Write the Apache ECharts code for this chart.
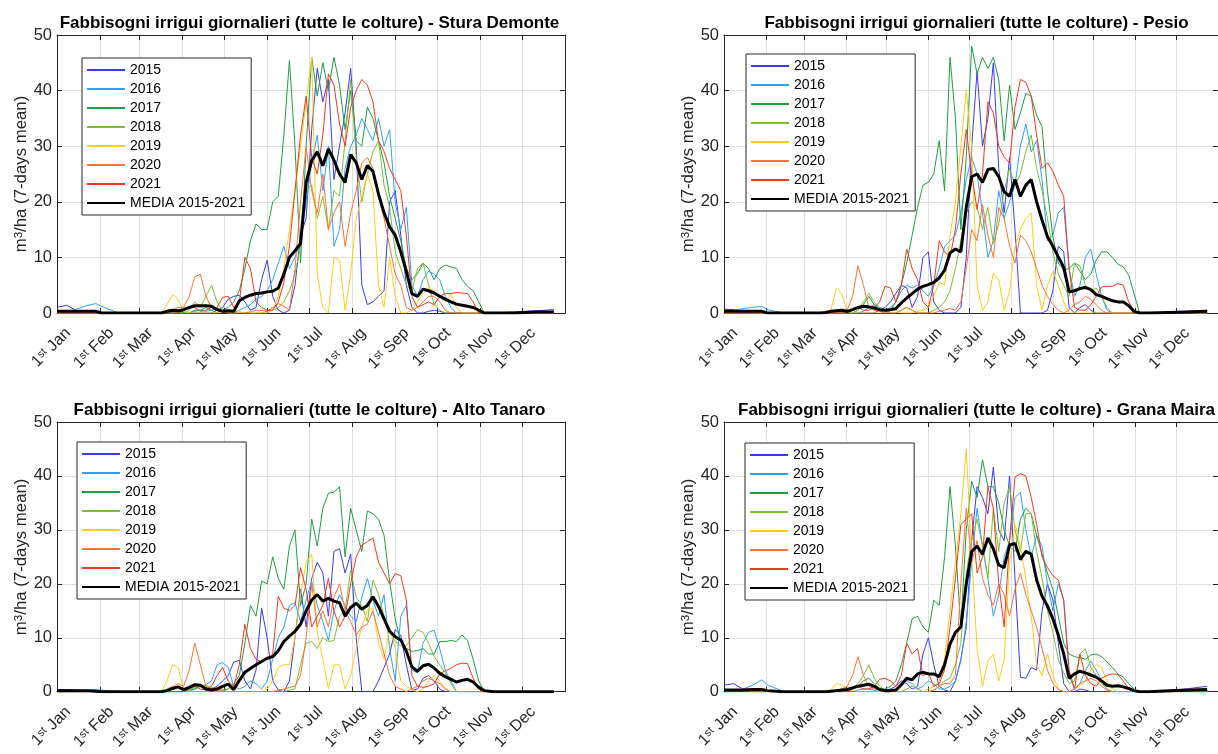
<!DOCTYPE html>
<html>
<head>
<meta charset="utf-8">
<script src="https://cdn.jsdelivr.net/npm/echarts@6/dist/echarts.min.js"></script>
<style>html,body{margin:0;padding:0;background:#fff;}#c{width:1218px;height:754px;}</style>
</head>
<body>
<div id="c"></div>
<script>
// ---------- DATA ----------
// day of year at which the 7-day-mean values are sampled
const DAYS = [1,8,15,22,29,33,45,60,72,
  76,80,84,88,92,96,100,104,108,112,
  116,120,124,128,132,136,140,144,148,152,
  156,160,164,168,172,176,180,184,188,192,
  196,200,204,208,212,216,220,224,228,232,
  236,240,244,248,252,256,260,264,268,272,
  276,280,284,288,292,296,300,304,308,
  315,330,345,358];
const MONTH_DAYS = [1,32,60,91,121,152,182,213,244,274,305,335];
const MONTH_LABELS = ['Jan','Feb','Mar','Apr','May','Jun','Jul','Aug','Sep','Oct','Nov','Dec'];
const Y_TICKS = [0,10,20,30,40,50];
const YEARS = ['2015','2016','2017','2018','2019','2020','2021'];
const MEAN_NAME = 'MEDIA 2015-2021';
const TITLES = [
  'Fabbisogni irrigui giornalieri (tutte le colture) - Stura Demonte',
  'Fabbisogni irrigui giornalieri (tutte le colture) - Pesio',
  'Fabbisogni irrigui giornalieri (tutte le colture) - Alto Tanaro',
  'Fabbisogni irrigui giornalieri (tutte le colture) - Grana Maira'
];

// ---- Stura Demonte ----
const MEAN1 = [0.3,0.3,0.3,0.3,0.3,0,0,0,0,
  0,0.3,0.5,0.4,0.6,1.0,1.3,1.3,1.3,1.2,
  0.6,0.3,0.4,0.3,2.2,2.8,3.2,3.5,3.6,3.8,
  3.9,4.5,7.0,10,11.2,12.5,23.5,27.4,29,26.5,
  29.5,27.5,25,23.5,28.5,27,24,26.5,25.5,21.4,
  18,15.5,14,11,7.5,3.5,3,4.3,4,3.6,
  3,2.5,2,1.6,1.4,1.2,1,0.5,0,
  0,0,0.2,0.2];
const S1_2015 = [1.0,1.4,0.4,0,0,0,0,0,0,
  0,0,0,0,0,0,0,0,0,0,
  0.5,1,2.5,3,3.2,2,0.5,1,6,9.5,
  3,0.5,0,0.5,5,14,17,33,44,38,
  42,24,30,36,44,30,5,1.5,2,3,
  4,20,22,14,5,1,0,0,0.3,0.5,
  0.3,0,0,0,0,0,0,0,0,
  0,0.2,0.4,0.6];
const S1_2016 = [0,0.2,0.7,1.3,1.7,1.2,0,0,0,
  0,0,0,0,0,0,0.3,0.5,0.3,0.5,
  1,0.3,0,0,0.5,1,1.5,2.5,3,4,
  6,9,12,8,10,13,20,27,32,22,
  30,12,15,26,30,32,35,33,31,35,
  30,33,20,15,19,5,3,6,7.5,7,
  6,3,1,0,0,0,0,0,0,
  0,0,0,0];
const S1_2017 = [0,0,0,0,0,0,0,0,0,
  0,0,0,0,0,0,0.5,0.5,1,0.5,
  0,0.5,1,2,4,8,13,16,15,15,
  20,21,32,45.4,30,9,30,46,39,45,
  40,46,41,33,40,31,30,37,35,31,
  27,21,17,13,8,6,7,9,8,6,
  8,8.6,8.3,8,6,4.8,4,2,0,
  0,0,0,0];
const S1_2018 = [0,0,0,0,0,0,0,0,0,
  0,0,0,0,0,0.5,2,1,3,5,
  2,0.3,0,0,0,0,0,0,0,0.3,
  0.5,1,2,4,7,12,22,23,17,21,
  15,22,21,31,42,28,20,25,29,31,
  23,19,11,8,5,4,8,9,5,1.5,
  0.5,0,0,0,0,0,0,0,0,
  0,0,0,0];
const S1_2019 = [0,0,0,0,0,0,0,0,0,
  0,1.5,3.3,2.5,0.3,0,0,0,0,0,
  0,0.3,0.5,0.5,0.3,0,0,0,0,0,
  0.5,3,8,15,22,30,38,46,7,1,
  0,10,9.5,0.5,7,17,21,25,22,5,
  1,10,3,0,0,0.5,2,3.5,4.5,4,
  3,2,3.5,1,0,0,0,0,0,
  0,0,0,0];
const S1_2020 = [0,0,0,0,0,0,0,0,0,
  0,0.2,0.5,1,1,3,6.5,7,3,1,
  0.5,0.2,0,0,0,0,0.2,0.5,0.5,0.3,
  1,1.7,1.2,0.5,8,20,30,22,18,25,
  15,18,20,12,18,22,27,28,26,21,
  17,12,7,5,1,0.5,1,2,3,3,
  2,0.5,0,0,0,0,0,0,0,
  0,0,0,0];
const S1_2021 = [0,0,0,0,0,0,0,0,0,
  0,0,0,0,0.5,1,1,0.3,0.5,1,
  1,2.8,3,1,2,10,8,2,1,0.5,
  0.5,2,5.5,12,22,32,39,28,25,32,
  43,41,34,30,37,40,42,41,38,31,
  29,26,24,22,14,3,1,1.5,2,1.5,
  3,3.5,3.5,3.7,3.6,3.5,2,0,0,
  0,0,0,0];

// ---- Pesio ----
const MEAN2 = [0.3,0.3,0.3,0.3,0.3,0,0,0,0,
  0.1,0.3,0.4,0.5,0.3,0.6,1.0,1.2,1.1,0.9,
  0.6,0.5,0.6,0.8,1.8,2.7,3.5,4.3,4.8,5.1,
  5.5,6.3,7.7,10.8,11.5,11,19,24.5,25,23.5,
  25.8,26,24.5,21.8,21,24,21,23,24,20,
  16.7,13.7,12,10.1,8.2,3.8,4,4.4,4.6,4.2,
  3.3,3,2.6,2.2,2,2,1.3,0.3,0,
  0,0.1,0.2,0.3];
const S2_2015 = [0.7,0.6,0.2,0,0,0,0,0,0,
  0,0,0,0,0,0,0,0,0,0,
  0.5,1,2,3.5,5,4.5,1,3,10,11,
  2,0.5,0,0,0,1,10,30,43.5,30,
  35,45,26,18,28,15,0,0,0,0,
  0,0.5,4,12,11,1,0,1,1.5,0.5,
  0,0,0,0,0,0,0,0,0,
  0,0.2,0.4,0.5];
const S2_2016 = [0.2,0.5,0.8,1.0,1.2,0.6,0,0,0,
  0,0,0,0,0,0,0,0.3,1,1.5,
  1,0.5,1,2,4,5,4.5,5,4,3,
  5,8,12,13,14,18,24,28,25,18,
  10,13,22,17,20,23,30,34,29,31,
  24,13,14,18,19,8,3,5,10,11.5,
  7,3,0.5,0,0,0,0,0,0,
  0,0,0,0];
const S2_2017 = [0,0,0,0,0,0,0,0,0,
  0,0,0,0,0,0,0.5,1.5,3,1.5,
  0.5,0,0.5,2,5,9,14,19,23,23.5,
  25,31,22,46,35,15,28,48,43,46,
  44,46,42,31,41,33,36,39.5,39,35.5,
  33.5,22,13.7,9,7.7,8,9,7.5,6,7,
  9.5,11,11,10,8.8,8.3,6.8,3.5,0,
  0,0,0,0];
const S2_2018 = [0,0,0,0,0,0,0,0,0,
  0,0,0,0,0,0,0.5,2,3.5,2,
  1,0.3,0,0,0.5,1,0.5,0,0,0,
  0.5,1,2,4,8,13,18,20,19,15,
  19,12.5,16,22,26,23,25,29,32,26,
  22,17,11,7,5,3,9,8.5,5,4,
  4.5,3,1,0,0,0,0,0,0,
  0,0,0,0];
const S2_2019 = [0,0,0,0,0,0,0,0,0,
  0,0.5,4.5,3.5,0.3,0,0,0,0,0,
  0,0,0.5,0.5,0,0,0,0.3,0.5,1,
  3,5.5,5,14,20,30,40,30,5,0.5,
  2,7.2,6,0.5,4,12,15,17,18,5,
  0.5,5,7.5,5,2,0,0,0,0,0,
  0,0,0,0,0,0,0,0,0,
  0,0,0,0];
const S2_2020 = [0,0,0,0,0,0,0,0,0,
  0,0,0,0,0.5,3,8.5,5,1,0.5,
  0.3,0,0,0,0.5,1,0.5,0,0,0,
  0,0.3,0.5,0.8,0.5,2,8,15,13,19.5,
  14,10,19,17,12,9,14,13,11,8,
  5,3,1.5,0.5,0,0.5,1.5,2,3,2.5,
  1.5,0.5,0,0,0,0,0,0,0,
  0,0,0,0];
const S2_2021 = [0,0,0,0,0,0,0,0,0,
  0,0,0,0,0,0.5,1,0.5,0.5,1,
  2,4.8,4.5,2,5,11.5,8,6,2,1,
  5,13,11,10,15,25,33,25,18.6,25,
  38,36,30,28,27,37,42,41.5,39,32,
  26,27,25.5,23,21,8,1,0.5,0.5,1.5,
  3,4.7,4.8,4.8,5.3,5,2,0.3,0,
  0,0,0,0];

// ---- Alto Tanaro ----
const MEAN3 = [0.2,0.2,0.2,0.2,0.1,0,0,0,0,
  0,0.2,0.6,0.9,0.4,0.8,1.3,1.2,0.5,0.3,
  0.5,1.0,1.4,0.4,2.1,3.6,4.3,5.0,5.6,6.2,
  6.5,7.6,9.3,10.3,11.2,12.5,15,17,18,16.8,
  17.3,16.8,16.5,14,15.6,16.4,15.3,16,17.6,15.8,
  13.5,11.2,10.2,9.6,7.5,4.6,3.8,4.8,5.1,4.4,
  3.4,2.8,2.3,1.8,2.1,2.3,1.8,0.8,0.2,
  0,0,0,0];
const S3_2015 = [0.4,0.4,0.3,0.2,0.1,0,0,0,0,
  0,0,0,0,0,0,0,0,0,0.5,
  1,2,3,5.5,5.8,2,0.5,4,15.5,10,
  2,0.3,0,2,10,19,12,21,24,22,
  14,26,26.5,22,25.5,10,0,0,0,2,
  4.5,7,11.5,10.5,5,0.3,0.5,2.5,3,2,
  0.5,0,0,0,0,0,0,0,0,
  0,0,0,0];
const S3_2016 = [0,0,0.2,0.3,0.4,0.3,0,0,0,
  0,0,0,0,0,0,0.5,1,1.3,2,
  5,5.4,4.5,1,0.5,1,2,1.5,0.5,2,
  6,10,12,16,16.5,13,17,20.5,16,13,
  9.5,15,18,16,14,13,17.5,21,17,14,
  18,8,2,14,16,4,3.5,9,11,11.4,
  8,4,2,0,0,0,0,0,0,
  0,0,0,0];
const S3_2017 = [0,0,0,0,0,0,0,0,0,
  0,0,0,0,0,0.3,0.5,1,0.8,0.5,
  0.3,0.3,0.5,1.5,3,9,16,14,20.5,20,
  25,21,19,27,30,16,20,32,27,34,
  36.8,37,38,25,34,30,26,33.5,33,32,
  29,20.5,13.5,9.3,8,7.5,7.6,8,7,7,
  9.3,9.3,9.5,9.3,10.5,9.5,6,2,0,
  0,0,0,0];
const S3_2018 = [0,0,0,0,0,0,0,0,0,
  0,0,0,0,0,0.3,0.8,1,1.2,0.8,
  0.5,0.3,0,0,0,0,0,0,0,0,
  0,0,0,0.3,0.5,5,9,9.3,8,10,
  9.3,9.5,14,15,22.5,17.5,16,13,20.7,18,
  14,11,9.3,8.5,8.5,10,11.5,11,9,6.5,
  5,3.5,1.5,0,0,0,0,0,0,
  0,0,0,0];
const S3_2019 = [0,0,0,0,0,0,0,0,0,
  0,2,5,4.5,0.5,0,0,0,0,0,
  0,0,0,0,0,0,0,0,0,0.5,
  2,4.5,5,5,10,18,24,25.5,11,6,
  0.5,5,5,0.5,3,8,12,15,15.5,9,
  6,12,8,2,1,0.5,0,0.5,2,3,
  2,0.5,0,0,0,0,0,0,0,
  0,0,0,0];
const S3_2020 = [0,0,0,0,0,0,0,0,0,
  0,0.5,1,1.5,1,4,9,5,1,0.5,
  0.3,0,0,0,0,0,0,0,0,0,
  0,0.3,0.5,0.8,1,3,10,20,12,15,
  12,17.5,20,15,13,10.5,12,12.5,15,11,
  7,3,1,0.5,0,0.5,1,2,2.5,2,
  1.5,0.5,0,0,0,0,0,0,0,
  0,0,0,0];
const S3_2021 = [0,0,0,0,0,0,0,0,0,
  0,0,0,0,0,0.5,1,0.5,0.3,1,
  3,4.5,2,1,5,12.5,8,6,5.5,6,
  7,17.7,15.5,15,16,23,19,12,14,16,
  21,15,12,14,20,25,27.2,27.8,28.5,24,
  22,20,21.9,21.5,17,3,1,0.8,1,1.5,
  3.3,3.9,4.3,5,5.3,5.2,2.5,0.5,0,
  0,0,0,0];

// ---- Grana Maira ----
const MEAN4 = [0.3,0.3,0.3,0.4,0.4,0.2,0,0,0,
  0,0.1,0.2,0.3,0.4,0.7,1.0,1.2,1.4,1.0,
  0.4,0.2,0.2,0.3,1.3,2.5,2.2,3.3,3.6,3.3,
  3.3,2.8,5,8.8,11,12,20,26,27,25.5,
  28.5,26.5,23.5,23,27.2,27.5,24.5,26,25.5,20.7,
  17.7,15.9,13.5,10.5,7,2.5,3.3,3.8,3.5,3.1,
  2.7,2,1.2,1,1.1,0.9,0.6,0.2,0,
  0,0.2,0.3,0.4];
const S4_2015 = [1.2,1.5,0.5,0,0,0,0,0,0,
  0,0,0,0,0,0,0,0,0,0,
  0,0.3,0.5,1,2,1.5,0.5,1,7,10,
  5,1,0.3,0,2,6,12,28,38,36,
  33,41.6,30,28,40,21,2.7,2.5,4.5,4,
  15,20,17,9,1.5,0,0,0.5,0.3,0,
  0,0,0,0,0,0,0,0,0,
  0,0.2,0.6,1.0];
const S4_2016 = [0,0,0.5,1.2,2.2,1.3,0,0,0,
  0,0,0,0,0,0,0.3,0.5,0.5,0.3,
  0,0,0.3,0.5,1.5,2,1.5,0.5,1,2,
  1.5,0.5,0.5,1,2,5.7,12.9,24,34,27,
  21,14,18,25,28,36,37,30,25,29,
  27,20,15,20,17,3,0.5,1.5,3.9,5.7,
  4,2,0.3,0,0,0,0,0,0,
  0,0,0,0];
const S4_2017 = [0,0,0,0,0,0,0,0,0,
  0,0,0,0,0,0.5,1,2,2.5,1.5,
  0.5,0.5,1,2,5,9,13.5,14,12,11,
  17,16,25,38,27,12,30,39,36,43,
  38,38,35,30,27,26,32,34,33,29,
  25.5,22,19,14,9,7,6.5,6.3,6,6.8,
  7,6.5,5.5,4.5,3.3,2.7,1.5,0.5,0,
  0,0,0,0];
const S4_2018 = [0,0,0,0,0,0,0,0,0,
  0,0,0,0,0.3,0.5,1.5,3,5,2.5,
  1,0.3,0,0,0,0.5,1,0.5,0,0,
  0.3,1,2,2.5,5,9,22,28,32,27,
  21,34,26,35,38,30,26,33,33,26,
  21,15,11,6,3.5,1.5,2,7,8,4.5,
  3,1.5,0.5,0,0,0,0,0,0,
  0,0,0,0];
const S4_2019 = [0,0,0,0,0,0,0,0,0,
  0,0.3,1.5,1.3,0.5,0.3,0,0,0,0,
  0,0,0,0,0,0,0,0,0,0.5,
  1,2,6,15,24,33,45,25,8,1,
  5.7,7,2,6,24,31,27,21,14,5,
  3,7,3,0.5,0,0,0.5,1,2,4,
  5,4.5,2,0.5,0,0,0,0,0,
  0,0,0,0];
const S4_2020 = [0,0,0,0,0,0,0,0,0,
  0,0,0.3,0.5,1,3,6.5,3,1,0.5,
  0.3,0,0,0,0,0,0,0,0,0,
  0.3,1,1.5,1.5,3,20,34,24,28,21,
  18,16,20,18,14,19,22,18,15,12,
  8,4,1.5,0.5,0,0,0.5,1.5,2,2.5,
  2,1,0.3,0,0,0,0,0,0,
  0,0,0,0];
const S4_2021 = [0,0,0,0,0,0,0,0,0,
  0,0,0,0,0,0.5,1,0.5,0.5,1,
  2.3,2.5,2,1,3,9,7,8,3,3.5,
  1,1.5,4,12,21,31,32,33,22,25,
  38,34,20,12,28,39.8,40.4,40,36,31,
  25,23,21.5,20.7,17,4,0.5,7,3,1.5,
  1,2.5,3,3.3,3.2,2,0.5,0,0,
  0,0,0,0];

const PANELS = [
  {title: TITLES[0], years: [S1_2015,S1_2016,S1_2017,S1_2018,S1_2019,S1_2020,S1_2021], mean: MEAN1},
  {title: TITLES[1], years: [S2_2015,S2_2016,S2_2017,S2_2018,S2_2019,S2_2020,S2_2021], mean: MEAN2},
  {title: TITLES[2], years: [S3_2015,S3_2016,S3_2017,S3_2018,S3_2019,S3_2020,S3_2021], mean: MEAN3},
  {title: TITLES[3], years: [S4_2015,S4_2016,S4_2017,S4_2018,S4_2019,S4_2020,S4_2021], mean: MEAN4}
];

// ---------- LAYOUT / STYLE ----------
const FONT = '"Liberation Sans", Arial, Helvetica, sans-serif';
const COLORS = ['#3a3af0','#2ea0ff','#1f9e45','#7cbf33','#ffcc1a','#ff7233','#ee3a1c'];
const AXIS_C = '#262626';
const GRID_C = '#e0e0e0';
const PW = 508, PH = 278;
const LABEL_SHIFT = 4; // MATLAB-style rotated label anchoring (days)
const GRID_POS = [{left:57, top:35}, {left:724, top:35}, {left:57, top:422}, {left:724, top:422}];
const LEGEND_POS = [{left:82, top:58}, {left:746, top:54}, {left:77, top:442}, {left:745, top:443}];
const LABEL_DAYS = MONTH_DAYS.map(d => d + LABEL_SHIFT);

const option = {
  animation: false,
  backgroundColor: '#fff',
  textStyle: {fontFamily: FONT},
  grid: [], xAxis: [], yAxis: [], legend: [], series: [], graphic: []
};

PANELS.forEach((p, k) => {
  const g = GRID_POS[k];
  option.grid.push({left: g.left, top: g.top, width: PW, height: PH});

  option.graphic.push({
    type: 'text', x: g.left + 252.5, y: g.top - 20, z: 20,
    style: {text: p.title, font: 'bold 17px ' + FONT, fill: '#000',
      align: 'center', verticalAlign: 'top', textAlign: 'center', textVerticalAlign: 'top'}
  });

  // bottom x axis
  option.xAxis.push({
    gridIndex: k, type: 'value', min: 1, max: 366, position: 'bottom',
    axisLine: {show: true, onZero: false, lineStyle: {color: AXIS_C, width: 1}},
    axisTick: {show: true, inside: true, length: 5, customValues: MONTH_DAYS, lineStyle: {color: AXIS_C}},
    axisLabel: {
      show: true, customValues: LABEL_DAYS, rotate: 45, align: 'right', verticalAlign: 'top',
      margin: 12, fontSize: 16, color: AXIS_C, fontFamily: FONT,
      formatter: v => '1{s|st} ' + MONTH_LABELS[LABEL_DAYS.indexOf(v)],
      rich: {s: {fontSize: 11, verticalAlign: 'top', color: AXIS_C, fontFamily: FONT}}
    },
    splitLine: {show: true, lineStyle: {color: GRID_C, width: 1}}
  });
  // top x axis (box)
  option.xAxis.push({
    gridIndex: k, type: 'value', min: 1, max: 366, position: 'top',
    axisLine: {show: true, onZero: false, lineStyle: {color: AXIS_C, width: 1}},
    axisTick: {show: true, inside: true, length: 5, customValues: MONTH_DAYS, lineStyle: {color: AXIS_C}},
    axisLabel: {show: false}, splitLine: {show: false}
  });
  // left y axis
  option.yAxis.push({
    gridIndex: k, type: 'value', min: 0, max: 50, interval: 10, position: 'left',
    axisLine: {show: true, onZero: false, lineStyle: {color: AXIS_C, width: 1}},
    axisTick: {show: true, inside: true, length: 5, lineStyle: {color: AXIS_C}},
    axisLabel: {fontSize: 16.5, color: AXIS_C, margin: 5, fontFamily: FONT,
      customValues: Y_TICKS},
    splitLine: {show: true, lineStyle: {color: GRID_C, width: 1}},
    name: 'm{s|3}/ha (7-days mean)', nameLocation: 'middle', nameRotate: 90, nameGap: 24,
    nameTextStyle: {fontSize: 16.8, color: AXIS_C, fontFamily: FONT,
      rich: {s: {fontSize: 11.5, verticalAlign: 'top', color: AXIS_C, fontFamily: FONT}}}
  });
  // right y axis (box)
  option.yAxis.push({
    gridIndex: k, type: 'value', min: 0, max: 50, interval: 10, position: 'right',
    axisLine: {show: true, onZero: false, lineStyle: {color: AXIS_C, width: 1}},
    axisTick: {show: true, inside: true, length: 5, lineStyle: {color: AXIS_C}},
    axisLabel: {show: false}, splitLine: {show: false}
  });

  p.years.forEach((arr, i) => {
    option.series.push({
      name: YEARS[i], type: 'line', xAxisIndex: 2 * k, yAxisIndex: 2 * k,
      data: DAYS.map((d, j) => [d, arr[j]]),
      symbol: 'none', showSymbol: false, silent: true, z: 2,
      lineStyle: {width: 1, color: COLORS[i]}, itemStyle: {color: COLORS[i]}
    });
  });
  option.series.push({
    name: MEAN_NAME, type: 'line', xAxisIndex: 2 * k, yAxisIndex: 2 * k,
    data: DAYS.map((d, j) => [d, p.mean[j]]),
    symbol: 'none', showSymbol: false, silent: true, z: 3,
    lineStyle: {width: 3, color: '#000'}, itemStyle: {color: '#000'}
  });

  const lp = LEGEND_POS[k];
  option.legend.push({
    left: lp.left, top: lp.top, orient: 'vertical',
    data: YEARS.concat([MEAN_NAME]),
    itemWidth: 38, itemHeight: 12, itemGap: 3,
    padding: [4, 6, 4, 4],
    borderColor: AXIS_C, borderWidth: 1, backgroundColor: '#fff',
    selectedMode: false, z: 10,
    itemStyle: {opacity: 0, borderWidth: 0},
    textStyle: {fontSize: 14, color: '#000', lineHeight: 16, fontFamily: FONT}
  });
});

const chart = echarts.init(document.getElementById('c'), null, {renderer: 'canvas'});
chart.setOption(option);
</script>
</body>
</html>
